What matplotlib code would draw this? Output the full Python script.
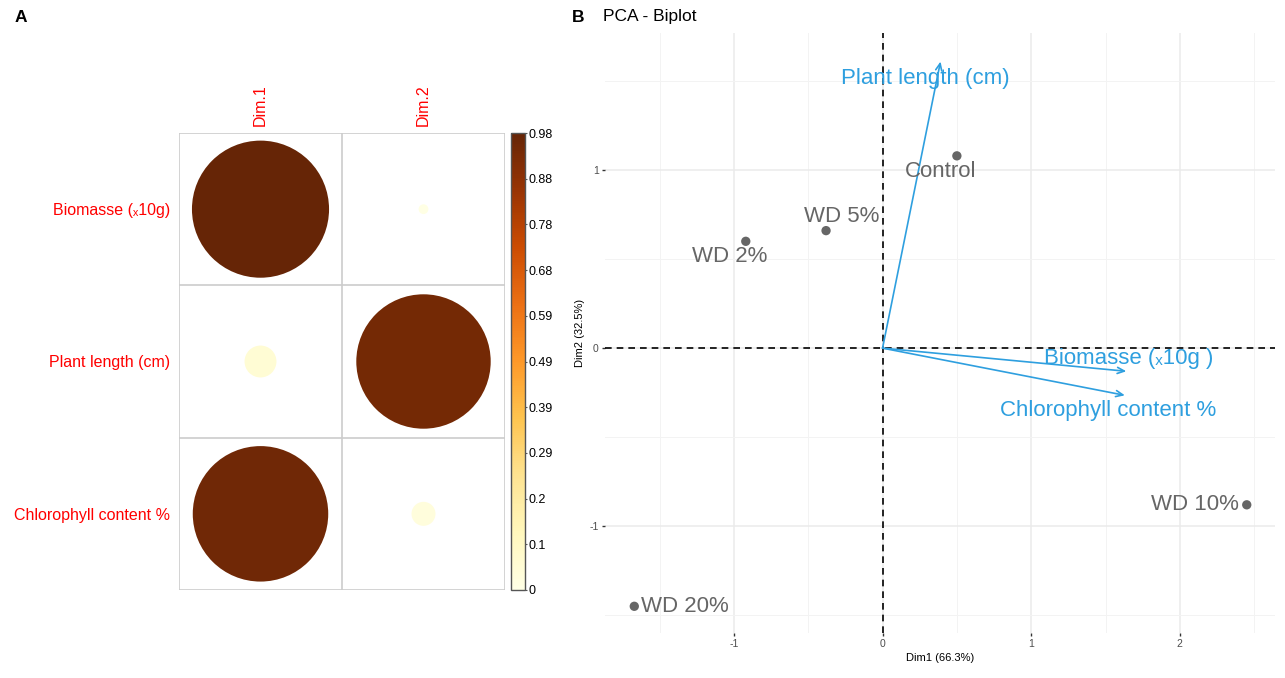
import matplotlib.pyplot as plt
import numpy as np

# ---------------------------------------------------------------
# Datos del gráfico
# ---------------------------------------------------------------
# Panel A: calidad de representación (cos2) de las variables
variables = ["Biomasse (ₓ10g)", "Plant length (cm)", "Chlorophyll content %"]
dims = ["Dim.1", "Dim.2"]
cos2 = [[0.978, 0.005],
        [0.053, 0.940],
        [0.955, 0.030]]
cbar_max = 0.978
cbar_labels = ["0", "0.1", "0.2", "0.29", "0.39", "0.49",
               "0.59", "0.68", "0.78", "0.88", "0.98"]

# Panel B: biplot
individuals = ["Control", "WD 2%", "WD 5%", "WD 10%", "WD 20%"]
ind_x = [0.50, -0.92, -0.38, 2.45, -1.67]
ind_y = [1.08, 0.60, 0.66, -0.88, -1.45]

var_names = ["Plant length (cm)", "Biomasse (ₓ10g )", "Chlorophyll content %"]
var_x = [0.39, 1.64, 1.63]
var_y = [1.61, -0.13, -0.265]

x_label = "Dim1 (66.3%)"
y_label = "Dim2 (32.5%)"

# Desplazamientos de las etiquetas (puntos)
ind_offsets = [(-12, -11), (-11.5, -11), (11, 10), (-37, 0), (36.5, 0)]
var_offsets = [(-11, -12), (2, 9.5), (-12, -11)]

# ---------------------------------------------------------------
plt.rcParams['font.family'] = ['Liberation Sans', 'DejaVu Sans']
plt.rcParams['axes.unicode_minus'] = False
W, H = 1285, 678
fig = plt.figure(figsize=(W / 100, H / 100), dpi=100)

# ---------------------------------------------------------------
# Panel A
# ---------------------------------------------------------------
axA = fig.add_axes([179 / W, 1 - 590 / H, 326 / W, 457 / H])
nrow, ncol = len(variables), len(dims)
axA.set_xlim(0, ncol)
axA.set_ylim(nrow, 0)

cell_pt = axA.get_position().height * H / 100 * 72 / nrow
vals = np.array(cos2)
xs, ys, cs, ss = [], [], [], []
for i in range(nrow):
    for j in range(ncol):
        v = vals[i, j]
        xs.append(j + 0.5)
        ys.append(i + 0.5)
        cs.append(v)
        ss.append((2 * 0.45 * cell_pt * np.sqrt(v / cbar_max)) ** 2)
sc = axA.scatter(xs, ys, s=ss, c=cs, cmap='YlOrBr', vmin=0, vmax=cbar_max,
                 edgecolors='none', zorder=3)

for k in range(nrow + 1):
    axA.axhline(k, color='#CCCCCC', lw=1.2, zorder=1)
for k in range(ncol + 1):
    axA.axvline(k, color='#CCCCCC', lw=1.2, zorder=1)
for s in axA.spines.values():
    s.set_visible(False)

axA.set_yticks(np.arange(nrow) + 0.5)
axA.set_yticklabels(variables, color='red', fontsize=11.5)
axA.set_xticks(np.arange(ncol) + 0.5)
axA.set_xticklabels(dims, color='red', fontsize=11.5, rotation=90)
axA.xaxis.tick_top()
axA.tick_params(axis='y', length=0, pad=6.5)
axA.tick_params(axis='x', length=0, pad=5)

cax = fig.add_axes([511 / W, 1 - 590 / H, 14 / W, 457 / H])
cb = fig.colorbar(sc, cax=cax, ticks=np.linspace(0, cbar_max, 11))
cb.ax.set_yticklabels(cbar_labels)
cb.ax.tick_params(labelsize=9, length=1.5, width=0.8, color='#555555', pad=1)
cb.outline.set_edgecolor('#555555')
cb.outline.set_linewidth(1)

fig.text(15 / W, 1 - 17 / H, "A", fontsize=12.5, fontweight='bold', va='center')

# ---------------------------------------------------------------
# Panel B
# ---------------------------------------------------------------
axB = fig.add_axes([605 / W, 1 - 633 / H, 670 / W, 600 / H])
axB.set_xlim(-1.867, 2.64)
axB.set_ylim(-1.60, 1.77)
axB.set_xticks([-1, 0, 1, 2])
axB.set_xticks([-1.5, -0.5, 0.5, 1.5, 2.5], minor=True)
axB.set_yticks([-1, 0, 1])
axB.set_yticks([-1.5, -0.5, 0.5, 1.5], minor=True)
axB.grid(which='major', color='#EBEBEB', lw=1.1, zorder=0)
axB.grid(which='minor', color='#F3F3F3', lw=0.7, zorder=0)
axB.set_axisbelow(True)
for s in axB.spines.values():
    s.set_visible(False)
axB.tick_params(which='major', length=2.5, width=1, color='#333333',
                labelsize=7.5, labelcolor='#4D4D4D', pad=2)
axB.tick_params(which='minor', length=0)

axB.axhline(0, color='black', ls=(0, (4, 3)), lw=1.2, zorder=2)
axB.axvline(0, color='black', ls=(0, (4, 3)), lw=1.2, zorder=2)

gris = '#666666'
axB.scatter(ind_x, ind_y, s=45, color=gris, zorder=4, edgecolors='none')
for name, x, y, off in zip(individuals, ind_x, ind_y, ind_offsets):
    axB.annotate(name, (x, y), xytext=off, textcoords='offset points',
                 ha='center', va='center', fontsize=16, color=gris, zorder=5)

azul = '#2E9FDF'
for name, x, y, off in zip(var_names, var_x, var_y, var_offsets):
    axB.annotate("", xy=(x, y), xytext=(0, 0),
                 arrowprops=dict(arrowstyle='->,head_length=0.5,head_width=0.22',
                                 color=azul, lw=1.2, shrinkA=0, shrinkB=0),
                 zorder=3)
    axB.annotate(name, (x, y), xytext=off, textcoords='offset points',
                 ha='center', va='center', fontsize=16, color=azul, zorder=5)

axB.set_xlabel(x_label, fontsize=8, color='black', labelpad=3)
axB.set_ylabel(y_label, fontsize=8, color='black', labelpad=3)

fig.text(572 / W, 1 - 17 / H, "B", fontsize=12.5, fontweight='bold', va='center')
fig.text(603 / W, 1 - 17 / H, "PCA - Biplot", fontsize=12.5, va='center')

fig.savefig("out.png", dpi=100)
